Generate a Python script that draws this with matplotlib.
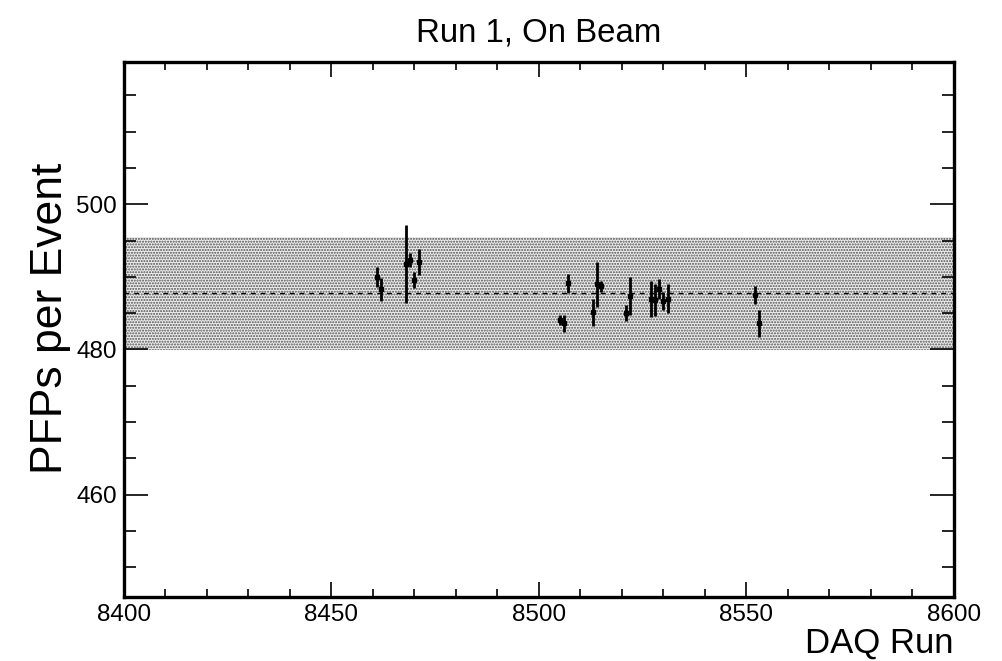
import matplotlib
matplotlib.use('Agg')
import matplotlib.pyplot as plt
import matplotlib.ticker as ticker
import numpy as np

plt.rcParams['font.family'] = ['Liberation Sans', 'DejaVu Sans']

# DAQ runs and mean PFPs per event
runs = [8461, 8462, 8468, 8469, 8470, 8471,
        8505, 8506, 8507, 8513, 8514, 8515,
        8521, 8522, 8527, 8528, 8529, 8530, 8531,
        8552, 8553]
pfps = [490.0, 488.3, 491.8, 492.3, 489.6, 492.1,
        484.1, 483.6, 489.1, 485.1, 489.0, 488.7,
        485.0, 487.4, 487.0, 486.8, 488.3, 486.7, 487.0,
        487.5, 483.6]
errs = [1.4, 1.6, 5.4, 1.0, 1.1, 1.8,
        0.7, 1.2, 1.3, 1.8, 3.1, 0.8,
        1.1, 2.6, 2.5, 2.2, 1.4, 1.2, 2.0,
        1.2, 1.9]
mean_val = 487.76
band_lo, band_hi = 479.96, 495.56

fig = plt.figure(figsize=(10.03, 6.61), dpi=100)
ax = fig.add_axes([0.1236, 0.0968, 0.8275, 0.8094])

ax.fill_between([8400, 8600], band_lo, band_hi, facecolor='#eeeeee',
                edgecolor='#505050', hatch='......', linewidth=0, zorder=1)
ax.axhline(mean_val, color='black', ls=(0, (3.5, 3.5)), lw=1.0, zorder=2)
ax.errorbar(runs, pfps, yerr=errs, ls='none', marker='s', markersize=3.5,
            color='black', elinewidth=2, capsize=0, zorder=3)

ax.set_xlim(8400, 8600)
ax.set_ylim(445.9, 519.6)
ax.xaxis.set_major_locator(ticker.MultipleLocator(50))
ax.xaxis.set_minor_locator(ticker.MultipleLocator(10))
ax.yaxis.set_major_locator(ticker.MultipleLocator(20))
ax.yaxis.set_minor_locator(ticker.MultipleLocator(5))
ax.tick_params(which='both', direction='in', top=True, right=True,
               labelsize=17.5, width=1.2, pad=5)
ax.tick_params(axis='y', which='major', length=17)
ax.tick_params(axis='y', which='minor', length=8.6)
ax.tick_params(axis='x', which='major', length=10.8)
ax.tick_params(axis='x', which='minor', length=5.8)
for s in ax.spines.values():
    s.set_linewidth(2.4)

ax.set_title('Run 1, On Beam', fontsize=23.8, pad=15)
ax.set_ylabel('PFPs per Event', fontsize=32)
ax.yaxis.set_label_coords(-0.064, 0.52)
ax.set_xlabel('DAQ Run', fontsize=25, loc='right', labelpad=0.5)

fig.savefig('out.png', dpi=100)
